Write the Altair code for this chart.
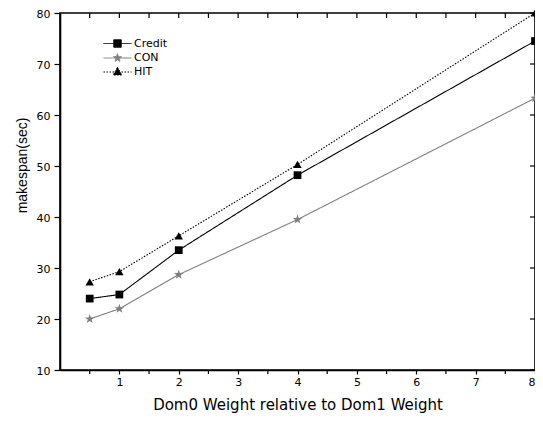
import altair as alt
import pandas as pd

# ---- data ----
weights = [0.5, 1, 2, 4, 8]
credit = [24.0, 24.8, 33.5, 48.2, 74.5]
con = [20.0, 22.0, 28.7, 39.5, 63.3]
hit = [27.3, 29.3, 36.3, 50.3, 80.0]
series = ["Credit", "CON", "HIT"]
x_labels = [1, 2, 3, 4, 5, 6, 7, 8]
x_ticks = [0.5, 1, 1.5, 2, 2.5, 3, 3.5, 4, 4.5, 5, 5.5, 6, 6.5, 7, 7.5, 8]
y_ticks = [10, 20, 30, 40, 50, 60, 70, 80]

rows = []
for name, vals in zip(series, [credit, con, hit]):
    for w, v in zip(weights, vals):
        rows.append({"weight": w, "makespan": v, "series": name})
df = pd.DataFrame(rows)
df_xt = pd.DataFrame({"t": x_ticks})
df_xminor = pd.DataFrame({"t": [t for t in x_ticks if t not in x_labels]})
df_yt = pd.DataFrame({"t": y_ticks})

# ---- styles ----
colors = ["#000000", "#808080", "#000000"]
dashes = [[1, 0], [1, 0], [1.5, 1.5]]
STAR = ("M0,-1L0.235,-0.324L0.951,-0.309L0.38,0.124L0.588,0.809L0,0.4"
        "L-0.588,0.809L-0.38,0.124L-0.951,-0.309L-0.235,-0.324Z")
point_shapes = {"Credit": "square", "CON": STAR, "HIT": "triangle-up"}
point_sizes = {"Credit": 60, "CON": 100, "HIT": 70}

legend_paths = [
    "M-2.8,0H2.8M-0.75,-0.75H0.75V0.75H-0.75Z",
    "M-2.8,0H-0.5M0.5,0H2.8M0,-0.85L0.2,-0.275L0.808,-0.263L0.323,0.105L0.5,0.688L0,0.34"
    "L-0.5,0.688L-0.323,0.105L-0.808,-0.263L-0.2,-0.275Z",
    "M-2.8,0.1H2.8M0,-0.85L0.85,0.7H-0.85Z",
]

FONT = "DejaVu Sans"
W, H = 475, 357

x_scale = alt.Scale(domain=[0, 8], nice=False, zero=False)
y_scale = alt.Scale(domain=[10, 80], nice=False, zero=False)


def cscale():
    return alt.Scale(domain=series, range=colors)


def dscale():
    return alt.Scale(domain=series, range=dashes)


x_axis = alt.Axis(values=x_labels, grid=False, format="d",
                  tickSize=4, tickWidth=1.2, tickColor="black",
                  domainWidth=1.6, domainColor="black",
                  labelFont=FONT, labelFontSize=11, labelColor="black", labelPadding=2,
                  title="Dom0 Weight relative to Dom1 Weight", titleFont=FONT,
                  titleFontSize=15, titleFontWeight="normal", titleColor="black",
                  titleBaseline="alphabetic", titleY=39)
y_axis = alt.Axis(values=y_ticks, grid=False,
                  tickSize=6, tickWidth=1.2, tickColor="black",
                  domainWidth=1.6, domainColor="black",
                  labelFont=FONT, labelFontSize=11, labelColor="black", labelPadding=4,
                  labelOffset=1.5,
                  title="makespan(sec)", titleFont="Liberation Sans",
                  titleFontSize=14, titleFontWeight="normal", titleColor="black",
                  titleX=-31, titleY=152)

base = alt.Chart(df)

lines = base.mark_line(strokeWidth=1.1).encode(
    x=alt.X("weight:Q", scale=x_scale, axis=x_axis),
    y=alt.Y("makespan:Q", scale=y_scale, axis=y_axis),
    color=alt.Color("series:N", scale=cscale(), legend=None),
    strokeDash=alt.StrokeDash("series:N", scale=dscale(), legend=None),
)

point_layers = []
for name in series:
    point_layers.append(
        base.transform_filter(alt.datum.series == name)
        .mark_point(shape=point_shapes[name], filled=True, opacity=1,
                    size=point_sizes[name])
        .encode(
            x=alt.X("weight:Q", scale=x_scale),
            y=alt.Y("makespan:Q", scale=y_scale),
            color=alt.Color("series:N", scale=cscale(), legend=None),
        )
    )

# minor ticks below the x axis, inward ticks on the top and right frame edges
minor_ticks = alt.Chart(df_xminor).mark_rule(strokeWidth=1.2, color="black").encode(
    x=alt.X("t:Q", scale=x_scale), y=alt.value(H), y2=alt.value(H + 4))
top_ticks = alt.Chart(df_xt).mark_rule(strokeWidth=1.2, color="black").encode(
    x=alt.X("t:Q", scale=x_scale), y=alt.value(0), y2=alt.value(5))
right_ticks = alt.Chart(df_yt).mark_rule(strokeWidth=1.2, color="black").encode(
    y=alt.Y("t:Q", scale=y_scale), x=alt.value(W - 5), x2=alt.value(W))

legend_layer = base.transform_filter("false").mark_point(opacity=1, strokeWidth=1).encode(
    x=alt.X("weight:Q", scale=x_scale),
    y=alt.Y("makespan:Q", scale=y_scale),
    fill=alt.Fill("series:N", scale=cscale(), legend=alt.Legend(title=None)),
    stroke=alt.Stroke("series:N", scale=cscale(), legend=alt.Legend(title=None)),
    strokeDash=alt.StrokeDash("series:N", scale=dscale(), legend=alt.Legend(title=None)),
    shape=alt.Shape("series:N", scale=alt.Scale(domain=series, range=legend_paths),
                    legend=alt.Legend(title=None)),
)

chart = (
    alt.layer(lines, *point_layers, minor_ticks, top_ticks, right_ticks, legend_layer)
    .resolve_scale(color="independent", strokeDash="independent", shape="independent",
                   fill="independent", stroke="independent")
    .properties(
        width=W, height=H,
        autosize=alt.AutoSizeParams(type="none"),
        padding={"left": 52, "top": 5, "right": 0, "bottom": 45},
    )
    .configure(font=FONT)
    .configure_view(stroke="black", strokeWidth=1.6)
    .configure_legend(
        orient="none", legendX=52, legendY=25, padding=0,
        symbolSize=100, symbolStrokeWidth=1, labelOffset=11,
        labelFont=FONT, labelFontSize=11, labelColor="black", rowPadding=1.5,
        symbolOpacity=1,
    )
)

chart.save("out.html", embed_options={"renderer": "svg", "actions": False})
